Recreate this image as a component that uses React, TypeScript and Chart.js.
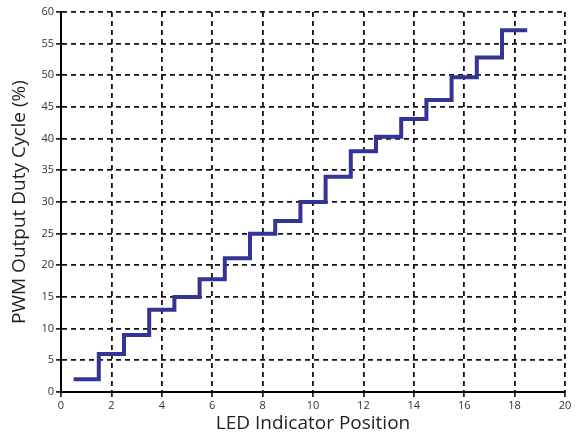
import React, { useEffect, useRef } from "react";
import { Chart, registerables } from "chart.js";

Chart.register(...registerables);

const ledPositions = [1, 2, 3, 4, 5, 6, 7, 8, 9, 10, 11, 12, 13, 14, 15, 16, 17, 18];
const dutyCycle = [2, 6, 9, 13, 15, 17.8, 21.1, 25, 27, 30, 34, 38, 40.3, 43.1, 46.1, 49.7, 52.8, 57.1];
const xTitle = "LED Indicator Position";
const yTitle = "PWM Output Duty Cycle (%)";

export default function App() {
  const ref = useRef<HTMLCanvasElement | null>(null);

  useEffect(() => {
    if (!ref.current) return;
    const pts: { x: number; y: number }[] = [];
    ledPositions.forEach((p, i) => {
      pts.push({ x: p - 0.5, y: dutyCycle[i] });
      pts.push({ x: p + 0.5, y: dutyCycle[i] });
    });
    const fontFamily = "'Open Sans', 'Noto Sans', sans-serif";
    const gridOpts = {
      color: "#111",
      lineWidth: 1.8,
      tickLength: 5,
      tickColor: "#000",
      tickWidth: 1.5,
      tickBorderDash: [],
    };
    const borderOpts = { display: true, color: "#000", width: 2, dash: [5, 4] };
    const chart = new Chart(ref.current, {
      type: "line",
      data: {
        datasets: [
          {
            data: pts,
            borderColor: "#343496",
            borderWidth: 4,
            pointRadius: 0,
            fill: false,
            tension: 0,
            borderJoinStyle: "miter",
            borderCapStyle: "butt",
          },
        ],
      },
      options: {
        animation: false,
        responsive: false,
        maintainAspectRatio: false,
        layout: { padding: { top: 12, right: 17, left: 0, bottom: 0 } },
        plugins: { legend: { display: false }, tooltip: { enabled: false } },
        scales: {
          x: {
            type: "linear",
            min: 0,
            max: 20,
            afterFit: (s: any) => {
              s.height = 44;
            },
            ticks: {
              stepSize: 2,
              color: "#333",
              padding: 2,
              font: { family: fontFamily, size: 11 },
              maxRotation: 0,
            },
            grid: gridOpts,
            border: borderOpts,
            title: {
              display: true,
              text: xTitle,
              color: "#222",
              font: { family: fontFamily, size: 19 },
              padding: { top: 0, bottom: 1 },
            },
          },
          y: {
            type: "linear",
            min: 0,
            max: 60,
            afterFit: (s: any) => {
              s.width = 61;
            },
            ticks: {
              stepSize: 5,
              color: "#333",
              padding: 2,
              font: { family: fontFamily, size: 11 },
            },
            grid: gridOpts,
            border: borderOpts,
            title: {
              display: true,
              text: yTitle,
              color: "#222",
              font: { family: fontFamily, size: 19 },
              padding: { top: 8, bottom: 0 },
            },
          },
        },
      },
    } as any);
    return () => chart.destroy();
  }, []);

  return (
    <div style={{ position: "fixed", left: 0, top: 0, width: 582, height: 436, background: "#fff" }}>
      <canvas ref={ref} width={582} height={436} style={{ width: 582, height: 436 }} />
    </div>
  );
}
